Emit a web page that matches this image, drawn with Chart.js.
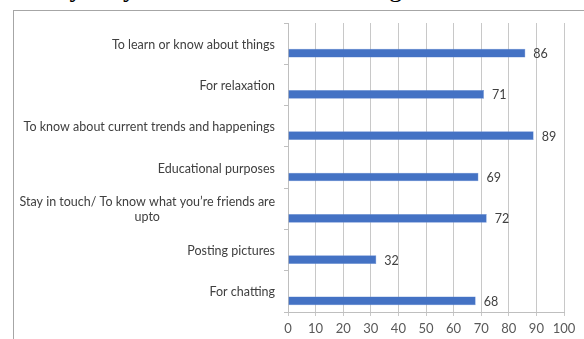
<!DOCTYPE html>
<html>
<head>
<meta charset="utf-8">
<script src="https://cdn.jsdelivr.net/npm/chart.js@4"></script>
<style>
  html, body { margin: 0; padding: 0; background: #fff; overflow: hidden; }
  body { width: 584px; height: 339px; position: relative; }
  #heading { position: absolute; left: 31px; top: -28px; font-family: "Liberation Serif", serif; font-size: 26.7px; line-height: 30px; color: #000; white-space: nowrap; }
  #frame { position: absolute; left: 13px; top: 10px; width: 700px; height: 400px; border: 1px solid #a6a6a6; }
  #c { position: absolute; left: 0; top: 0; }
</style>
</head>
<body>
<div id="heading">Why do you use social networking sites?</div>
<div id="frame"></div>
<canvas id="c" width="584" height="339"></canvas>
<script>
const categories = [
  'To learn or know about things',
  'For relaxation',
  'To know about current trends and happenings',
  'Educational purposes',
  ['Stay in touch/ To know what you\u2019re friends are', 'upto'],
  'Posting pictures',
  'For chatting'
];
const responses = [86, 71, 89, 69, 72, 32, 68];
const emptySeries = [null, null, null, null, null, null, null];
const xTicks = [0, 10, 20, 30, 40, 50, 60, 70, 80, 90, 100];

const FONT_FAMILY = 'Lato, "Open Sans", sans-serif';
const LABEL_FONT = '12.5px ' + FONT_FAMILY;

const categoryLabels = {
  id: 'categoryLabels',
  afterDraw(chart) {
    const ctx = chart.ctx;
    const y = chart.scales.y;
    const rightX = y.right - 13;
    ctx.save();
    ctx.font = LABEL_FONT;
    ctx.fillStyle = '#404040';
    ctx.textBaseline = 'middle';
    ctx.textAlign = 'center';
    categories.forEach((lab, i) => {
      const lines = Array.isArray(lab) ? lab : [lab];
      const w = Math.max(...lines.map(l => ctx.measureText(l).width));
      const cy = y.getPixelForTick(i) + 1;
      const lh = 15;
      const y0 = cy - (lines.length - 1) * lh / 2;
      lines.forEach((l, k) => ctx.fillText(l, rightX - w / 2, y0 + k * lh));
    });
    ctx.restore();
  }
};

const valueLabels = {
  id: 'valueLabels',
  afterDatasetsDraw(chart) {
    const ctx = chart.ctx;
    const meta = chart.getDatasetMeta(1);
    ctx.save();
    ctx.font = LABEL_FONT;
    ctx.fillStyle = '#404040';
    ctx.textBaseline = 'middle';
    ctx.textAlign = 'left';
    meta.data.forEach((el, i) => {
      ctx.fillText(String(responses[i]), el.x + 8, el.y + 1);
    });
    ctx.restore();
  }
};

new Chart(document.getElementById('c'), {
  type: 'bar',
  data: {
    labels: categories,
    datasets: [
      { label: '', data: emptySeries, backgroundColor: '#4472C4' },
      { label: 'Responses', data: responses, backgroundColor: '#4472C4', borderColor: '#6a90d4', borderWidth: 0.5 }
    ]
  },
  options: {
    indexAxis: 'y',
    responsive: false,
    animation: false,
    devicePixelRatio: 1,
    categoryPercentage: 0.92,
    barPercentage: 0.46,
    layout: { padding: { left: 0, right: 20, top: 23, bottom: 0 } },
    plugins: { legend: { display: false }, tooltip: { enabled: false } },
    scales: {
      x: {
        min: 0, max: 100,
        afterBuildTicks(scale) { scale.ticks = xTicks.map(v => ({ value: v })); },
        afterFit(scale) { scale.height = 27; },
        grid: { color: '#c8c8c8', lineWidth: 1, tickLength: 4, drawTicks: true },
        border: { display: true, color: '#bfbfbf' },
        ticks: { color: '#595959', font: { family: FONT_FAMILY, size: 13 }, padding: 5, maxRotation: 0, autoSkip: false }
      },
      y: {
        afterFit(scale) { scale.width = 288; },
        grid: { drawOnChartArea: false, drawTicks: true, tickLength: 4, color: '#bfbfbf', offset: true },
        border: { display: true, color: '#bfbfbf' },
        ticks: { display: false }
      }
    }
  },
  plugins: [categoryLabels, valueLabels]
});
</script>
</body>
</html>
